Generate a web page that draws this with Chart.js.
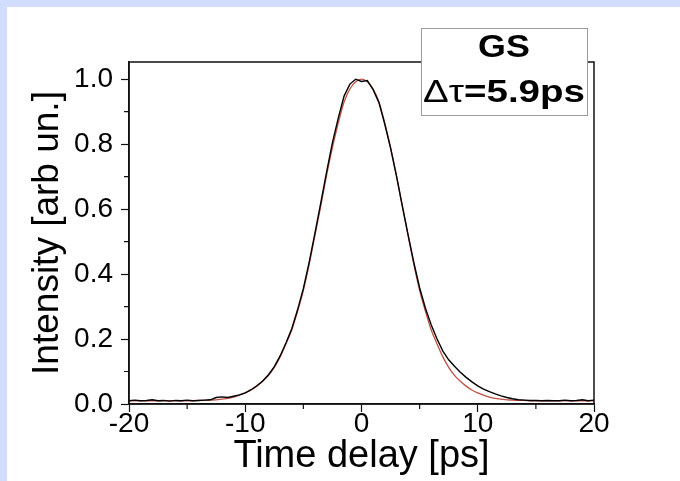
<!DOCTYPE html>
<html>
<head>
<meta charset="utf-8">
<script src="https://cdn.jsdelivr.net/npm/chart.js@4.4.1/dist/chart.umd.min.js"></script>
<style>
  html, body { margin: 0; padding: 0; background: #d2dcfc; width: 680px; height: 481px; overflow: hidden; }
  #wrap { position: absolute; left: 7px; top: 7px; width: 673px; height: 474px; background: #ffffff; }
  canvas { display: block; }
</style>
</head>
<body>
<div id="wrap"><canvas id="c" width="673" height="474"></canvas></div>
<script>
// ---- data ----
const timePs = [
  -20, -19.5, -19, -18.5, -18, -17.5, -17, -16.5, -16, -15.5,
  -15, -14.5, -14, -13.5, -13, -12.5, -12, -11.5, -11, -10.5,
  -10, -9.5, -9, -8.5, -8, -7.5, -7, -6.5, -6, -5.5,
  -5, -4.5, -4, -3.5, -3, -2.5, -2, -1.5, -1, -0.5,
  0,
  0.5, 1, 1.5, 2, 2.5, 3, 3.5, 4, 4.5, 5,
  5.5, 6, 6.5, 7, 7.5, 8, 8.5, 9, 9.5, 10,
  10.5, 11, 11.5, 12, 12.5, 13, 13.5, 14, 14.5, 15,
  15.5, 16, 16.5, 17, 17.5, 18, 18.5, 19, 19.5, 20
];
const measured = [
  0.010, 0.012, 0.010, 0.011, 0.013, 0.010, 0.011, 0.009, 0.011, 0.010,
  0.012, 0.010, 0.011, 0.012, 0.013, 0.020, 0.022, 0.020, 0.024, 0.028,
  0.034, 0.044, 0.056, 0.071, 0.090, 0.115, 0.148, 0.188, 0.232, 0.290,
  0.356, 0.437, 0.527, 0.620, 0.715, 0.805, 0.880, 0.948, 0.985, 1.000,
  0.993,
  0.996, 0.968, 0.928, 0.862, 0.788, 0.703, 0.612, 0.522, 0.436, 0.358,
  0.295, 0.243, 0.200, 0.163, 0.136, 0.116, 0.098, 0.082, 0.068, 0.056,
  0.046, 0.038, 0.031, 0.025, 0.020, 0.016, 0.013, 0.012, 0.011, 0.011,
  0.010, 0.011, 0.010, 0.010, 0.012, 0.010, 0.011, 0.013, 0.010, 0.012
];
const fitCurve = [
  0.010, 0.010, 0.010, 0.010, 0.010, 0.010, 0.010, 0.010, 0.010, 0.010,
  0.010, 0.010, 0.011, 0.011, 0.012, 0.013, 0.015, 0.017, 0.021, 0.027,
  0.034, 0.043, 0.055, 0.070, 0.088, 0.113, 0.145, 0.185, 0.228, 0.285,
  0.350, 0.430, 0.520, 0.610, 0.705, 0.790, 0.865, 0.930, 0.970, 0.992,
  1.000,
  0.992, 0.970, 0.930, 0.865, 0.790, 0.705, 0.610, 0.520, 0.430, 0.350,
  0.285, 0.228, 0.185, 0.145, 0.113, 0.088, 0.070, 0.055, 0.043, 0.034,
  0.027, 0.021, 0.017, 0.015, 0.013, 0.012, 0.011, 0.011, 0.010, 0.010,
  0.010, 0.010, 0.010, 0.010, 0.010, 0.010, 0.010, 0.010, 0.010, 0.010
];
const xTickValues = [-20, -10, 0, 10, 20];
const xMinorTicks = [-15, -5, 5, 15];
const yTickValues = [0, 0.2, 0.4, 0.6, 0.8, 1.0];
const yMinorTicks = [0.1, 0.3, 0.5, 0.7, 0.9];
const xRange = [-20, 20];
const yRange = [0, 1.053];
const boxTitle = 'GS';
const boxSymbol = '\u0394\u03C4';
const boxValue = '=5.9ps';
const xTitle = 'Time delay [ps]';
const yTitle = 'Intensity [arb un.]';

const FONT = '"Liberation Sans", Arial, sans-serif';

const framePlugin = {
  id: 'frame',
  afterDraw(chart) {
    const ctx = chart.ctx;
    const a = chart.chartArea;
    const xs = chart.scales.x, ys = chart.scales.y;
    ctx.save();
    ctx.strokeStyle = '#111';
    ctx.lineWidth = 1.5;
    ctx.strokeRect(a.left, a.top, a.right - a.left, a.bottom - a.top);
    // minor ticks
    ctx.lineWidth = 1.2;
    ctx.beginPath();
    xMinorTicks.forEach(v => {
      const px = xs.getPixelForValue(v);
      ctx.moveTo(px, a.bottom); ctx.lineTo(px, a.bottom + 5);
    });
    yMinorTicks.forEach(v => {
      const py = ys.getPixelForValue(v);
      ctx.moveTo(a.left, py); ctx.lineTo(a.left - 5, py);
    });
    ctx.stroke();

    // annotation box
    const bx = 414, by = 21, bw = 166, bh = 87;
    ctx.fillStyle = '#ffffff';
    ctx.fillRect(bx, by, bw, bh);
    ctx.strokeStyle = '#9a9a9a';
    ctx.lineWidth = 1;
    ctx.strokeRect(bx + 0.5, by + 0.5, bw, bh);
    ctx.fillStyle = '#000';
    ctx.textBaseline = 'alphabetic';
    // line 1
    ctx.font = 'bold 32px ' + FONT;
    const w1 = ctx.measureText(boxTitle).width;
    const s1 = 1.12;
    ctx.save();
    ctx.translate(bx + bw / 2 - w1 * s1 / 2, 50);
    ctx.scale(s1, 1);
    ctx.fillText(boxTitle, 0, 0);
    ctx.restore();
    // line 2
    ctx.font = '32px ' + FONT;
    const wa = ctx.measureText(boxSymbol).width;
    ctx.font = 'bold 32px ' + FONT;
    const wb = ctx.measureText(boxValue).width;
    const target = 162;
    const s2 = target / (wa + wb);
    ctx.save();
    ctx.translate(bx + bw / 2 - target / 2, 95);
    ctx.scale(s2, 1);
    ctx.font = '32px ' + FONT;
    ctx.fillText(boxSymbol, 0, 0);
    ctx.font = 'bold 32px ' + FONT;
    ctx.fillText(boxValue, wa, 0);
    ctx.restore();
    ctx.restore();
  }
};

const ctx = document.getElementById('c').getContext('2d');
new Chart(ctx, {
  type: 'line',
  data: {
    datasets: [
      {
        label: 'measured',
        data: timePs.map((t, i) => ({ x: t, y: measured[i] })),
        borderColor: '#000000',
        borderWidth: 1.4,
        pointRadius: 0,
        tension: 0,
        fill: false
      },
      {
        label: 'fit',
        data: timePs.map((t, i) => ({ x: t, y: fitCurve[i] })),
        borderColor: 'rgb(190, 80, 68)',
        borderWidth: 1.3,
        pointRadius: 0,
        cubicInterpolationMode: 'monotone',
        fill: false
      }
    ]
  },
  options: {
    responsive: false,
    animation: false,
    layout: { padding: { top: 55, right: 86, left: 0, bottom: 0 } },
    plugins: { legend: { display: false }, tooltip: { enabled: false } },
    scales: {
      x: {
        type: 'linear',
        min: xRange[0], max: xRange[1],
        afterFit(scale) { scale.height = 77; },
        afterBuildTicks(scale) { scale.ticks = xTickValues.map(v => ({ value: v })); },
        grid: { drawOnChartArea: false, drawTicks: true, tickLength: 8, tickColor: '#111', tickWidth: 1.2 },
        border: { display: true, color: '#111', width: 1.5 },
        ticks: { color: '#000', font: { family: FONT, size: 28 }, padding: -5, maxRotation: 0,
                 callback: v => String(v) },
        title: { display: true, text: xTitle, color: '#000', font: { family: FONT, size: 38 },
                 padding: { top: 0, bottom: 2 } }
      },
      y: {
        type: 'linear',
        min: yRange[0], max: yRange[1],
        afterFit(scale) { scale.width = 122; },
        afterBuildTicks(scale) { scale.ticks = yTickValues.map(v => ({ value: v })); },
        grid: { drawOnChartArea: false, drawTicks: true, tickLength: 8, tickColor: '#111', tickWidth: 1.2 },
        border: { display: true, color: '#111', width: 1.5 },
        ticks: { color: '#000', font: { family: FONT, size: 28 }, padding: 8,
                 callback: v => Number(v).toFixed(1) },
        title: { display: true, text: yTitle, color: '#000', font: { family: FONT, size: 37 },
                 padding: { top: 19, bottom: 0 } }
      }
    }
  },
  plugins: [framePlugin]
});
</script>
</body>
</html>
